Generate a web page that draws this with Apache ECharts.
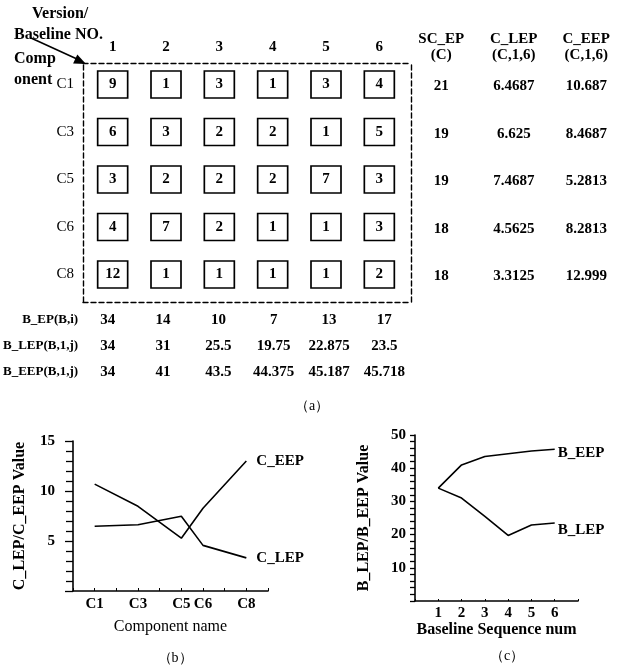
<!DOCTYPE html>
<html><head><meta charset="utf-8">
<script src="https://cdn.jsdelivr.net/npm/echarts@6/dist/echarts.min.js"></script>
<style>html,body{margin:0;padding:0;background:#fff}#c{width:627px;height:666px}</style>
</head><body><div id="c"></div>
<script>
// ---- data ----
const versions = ['1','2','3','4','5','6'];
const components = ['C1','C3','C5','C6','C8'];
const componentNums = [1,3,5,6,8];
const changeMatrix = [
  [9,1,3,1,3,4],
  [6,3,2,2,1,5],
  [3,2,2,2,7,3],
  [4,7,2,1,1,3],
  [12,1,1,1,1,2]
];
const rightHeaders = ['SC_EP\n(C)','C_LEP\n(C,1,6)','C_EEP\n(C,1,6)'];
const scEP = [21,19,19,18,18];
const cLEP = [6.4687,6.625,7.4687,4.5625,3.3125];
const cEEP = [10.687,8.4687,5.2813,8.2813,12.999];
const bRowLabels = ['B_EP(B,i)','B_LEP(B,1,j)','B_EEP(B,1,j)'];
const bEP = [34,14,10,7,13,17];
const bLEP = [34,31,25.5,19.75,22.875,23.5];
const bEEP = [34,41,43.5,44.375,45.187,45.718];
const baselineNums = [1,2,3,4,5,6];

// ---- styling ----
const SERIF = '"Liberation Serif","Times New Roman",serif';
const TXT = {fontFamily: SERIF, fontWeight: 'bold', color: '#000'};
const chart = echarts.init(document.getElementById('c'));

function frameAxis(gi, pos) {
  return {gridIndex: gi, type: 'value', min: 0, max: 1, position: pos,
    axisLine: {show: true, onZero: false, lineStyle: {color: '#000', width: 1.4, type: [5, 3]}},
    axisTick: {show: false}, axisLabel: {show: false}, splitLine: {show: false}};
}
function hiddenCat(gi, data, extra) {
  return Object.assign({gridIndex: gi, type: 'category', data: data,
    axisLine: {show: false}, axisTick: {show: false}, splitLine: {show: false},
    axisLabel: {show: false}}, extra || {});
}
const clearItem = {color: 'rgba(0,0,0,0)', opacity: 1};
function textLabel(size) {
  return {show: true, position: 'inside', fontSize: size, ...TXT,
    formatter: p => String(p.value[2])};
}

// matrix cells
const cellData = [];
changeMatrix.forEach((row, r) => row.forEach((v, c) => cellData.push([c, r, v])));
// right table
const rightData = [];
components.forEach((_, r) => {
  rightData.push([0, r, scEP[r]]);
  rightData.push([1, r, cLEP[r]]);
  rightData.push([2, r, cEEP[r]]);
});
// bottom table
const bottomData = [];
[bEP, bLEP, bEEP].forEach((arr, r) => arr.forEach((v, c) => bottomData.push([c, r, v])));

const option = {
  animation: false,
  backgroundColor: '#fff',
  textStyle: {fontFamily: SERIF},
  title: [
    {text: '（a）', left: 307, top: 394, textAlign: 'center', textStyle: {...TXT, fontSize: 14, fontWeight: 'normal'}},
    {text: '（b）', left: 170, top: 646, textAlign: 'center', textStyle: {...TXT, fontSize: 14, fontWeight: 'normal'}},
    {text: '（c）', left: 502, top: 644, textAlign: 'center', textStyle: {...TXT, fontSize: 14, fontWeight: 'normal'}}
  ],
  grid: [
    {left: 83, top: 63, width: 328, height: 239},          // 0 dashed frame
    {left: 86, top: 60.75, width: 320, height: 237.5},     // 1 matrix cells
    {left: 405, top: 62.75, width: 217.5, height: 237.5},  // 2 right table
    {left: 77, top: 307, width: 335, height: 78},          // 3 bottom table
    {left: 73, top: 441, width: 195, height: 150},         // 4 chart b
    {left: 415, top: 435, width: 163, height: 166}         // 5 chart c
  ],
  xAxis: [
    frameAxis(0, 'top'),
    frameAxis(0, 'bottom'),
    hiddenCat(1, versions, {position: 'top', axisLabel: {show: true, margin: 6, fontSize: 15, ...TXT}}),
    hiddenCat(2, rightHeaders, {position: 'top', axisLabel: {show: true, margin: 0, fontSize: 15, lineHeight: 16, ...TXT}}),
    hiddenCat(3, versions),
    {gridIndex: 4, type: 'value', min: 0, max: 9, interval: 1,
      axisLine: {lineStyle: {color: '#000', width: 1.6}},
      axisTick: {show: true, inside: true, length: 3, lineStyle: {color: '#000'}},
      splitLine: {show: false},
      axisLabel: {customValues: componentNums, margin: 6, fontSize: 15, ...TXT,
        formatter: v => components[componentNums.indexOf(v)] || ''},
      name: 'Component name', nameLocation: 'middle', nameGap: 28,
      nameTextStyle: {...TXT, fontSize: 16, fontWeight: 'normal'}},
    {gridIndex: 5, type: 'value', min: 0, max: 7, interval: 1,
      axisLine: {lineStyle: {color: '#000', width: 1.6}},
      axisTick: {show: true, inside: true, length: 2, lineStyle: {color: '#000'}},
      splitLine: {show: false},
      axisLabel: {customValues: baselineNums, margin: 5, fontSize: 15, ...TXT},
      name: 'Baseline Sequence num', nameLocation: 'middle', nameGap: 21,
      nameTextStyle: {...TXT, fontSize: 16}}
  ],
  yAxis: [
    frameAxis(0, 'left'),
    frameAxis(0, 'right'),
    hiddenCat(1, components, {inverse: true, axisLabel: {show: true, margin: 12, fontSize: 15, ...TXT, fontWeight: 'normal'}}),
    hiddenCat(2, components, {inverse: true}),
    hiddenCat(3, bRowLabels, {inverse: true, axisLabel: {show: true, margin: 2, fontSize: 13, ...TXT}}),
    {gridIndex: 4, type: 'value', min: 0, max: 15, interval: 5,
      axisLine: {show: true, lineStyle: {color: '#000', width: 1.6}},
      axisTick: {show: true, length: 8, lineStyle: {color: '#000', width: 1.3}},
      minorTick: {show: true, splitNumber: 5, length: 7, lineStyle: {color: '#000', width: 1.3}},
      splitLine: {show: false},
      axisLabel: {margin: 18, fontSize: 15, ...TXT, showMinLabel: false},
      name: 'C_LEP/C_EEP Value', nameLocation: 'middle', nameRotate: 90, nameGap: 45,
      nameTextStyle: {...TXT, fontSize: 16}},
    {gridIndex: 5, type: 'value', min: 0, max: 50, interval: 10,
      axisLine: {show: true, lineStyle: {color: '#000', width: 1.6}},
      axisTick: {show: true, length: 5, lineStyle: {color: '#000', width: 1.3}},
      minorTick: {show: true, splitNumber: 5, length: 5, lineStyle: {color: '#000', width: 1.3}},
      splitLine: {show: false},
      axisLabel: {margin: 9, fontSize: 15, ...TXT, showMinLabel: false},
      name: 'B_LEP/B_EEP Value', nameLocation: 'middle', nameRotate: 90, nameGap: 43,
      nameTextStyle: {...TXT, fontSize: 16}}
  ],
  series: [
    {type: 'scatter', xAxisIndex: 2, yAxisIndex: 2, data: cellData,
      symbol: 'rect', symbolSize: [30, 27],
      itemStyle: {color: '#fff', borderColor: '#000', borderWidth: 1.6, opacity: 1},
      label: textLabel(15)},
    {type: 'scatter', xAxisIndex: 3, yAxisIndex: 3, data: rightData,
      symbolSize: 1, itemStyle: clearItem, label: textLabel(15)},
    {type: 'scatter', xAxisIndex: 4, yAxisIndex: 4, data: bottomData,
      symbolSize: 1, itemStyle: clearItem, label: textLabel(15)},
    {type: 'line', name: 'C_EEP', xAxisIndex: 5, yAxisIndex: 5,
      data: componentNums.map((x, i) => [x, cEEP[i]]), symbol: 'none',
      lineStyle: {color: '#000', width: 1.6},
      endLabel: {show: true, formatter: 'C_EEP', distance: 10, fontSize: 15, ...TXT}},
    {type: 'line', name: 'C_LEP', xAxisIndex: 5, yAxisIndex: 5,
      data: componentNums.map((x, i) => [x, cLEP[i]]), symbol: 'none',
      lineStyle: {color: '#000', width: 1.6},
      endLabel: {show: true, formatter: 'C_LEP', distance: 10, fontSize: 15, ...TXT}},
    {type: 'line', name: 'B_EEP', xAxisIndex: 6, yAxisIndex: 6,
      data: baselineNums.map((x, i) => [x, bEEP[i]]), symbol: 'none',
      lineStyle: {color: '#000', width: 1.6},
      endLabel: {show: true, formatter: 'B_EEP', distance: 3, offset: [0, 4], fontSize: 15, ...TXT}},
    {type: 'line', name: 'B_LEP', xAxisIndex: 6, yAxisIndex: 6,
      data: baselineNums.map((x, i) => [x, bLEP[i]]), symbol: 'none',
      lineStyle: {color: '#000', width: 1.6},
      endLabel: {show: true, formatter: 'B_LEP', distance: 3, offset: [0, 7], fontSize: 15, ...TXT}}
  ],
  graphic: [
    {type: 'text', left: 32, top: 6, style: {text: 'Version/', font: 'bold 16px ' + SERIF, fill: '#000'}},
    {type: 'text', left: 14, top: 27, style: {text: 'Baseline NO.', font: 'bold 16px ' + SERIF, fill: '#000'}},
    {type: 'text', left: 14, top: 51, style: {text: 'Comp', font: 'bold 16px ' + SERIF, fill: '#000'}},
    {type: 'text', left: 14, top: 72, style: {text: 'onent', font: 'bold 16px ' + SERIF, fill: '#000'}},
    {type: 'line', shape: {x1: 31, y1: 38, x2: 77, y2: 59}, style: {stroke: '#000', lineWidth: 1.6}},
    {type: 'polygon', shape: {points: [[86, 64], [73.1, 63.4], [77.3, 54.4]]}, style: {fill: '#000'}}
  ]
};
chart.setOption(option);
</script>
</body></html>
